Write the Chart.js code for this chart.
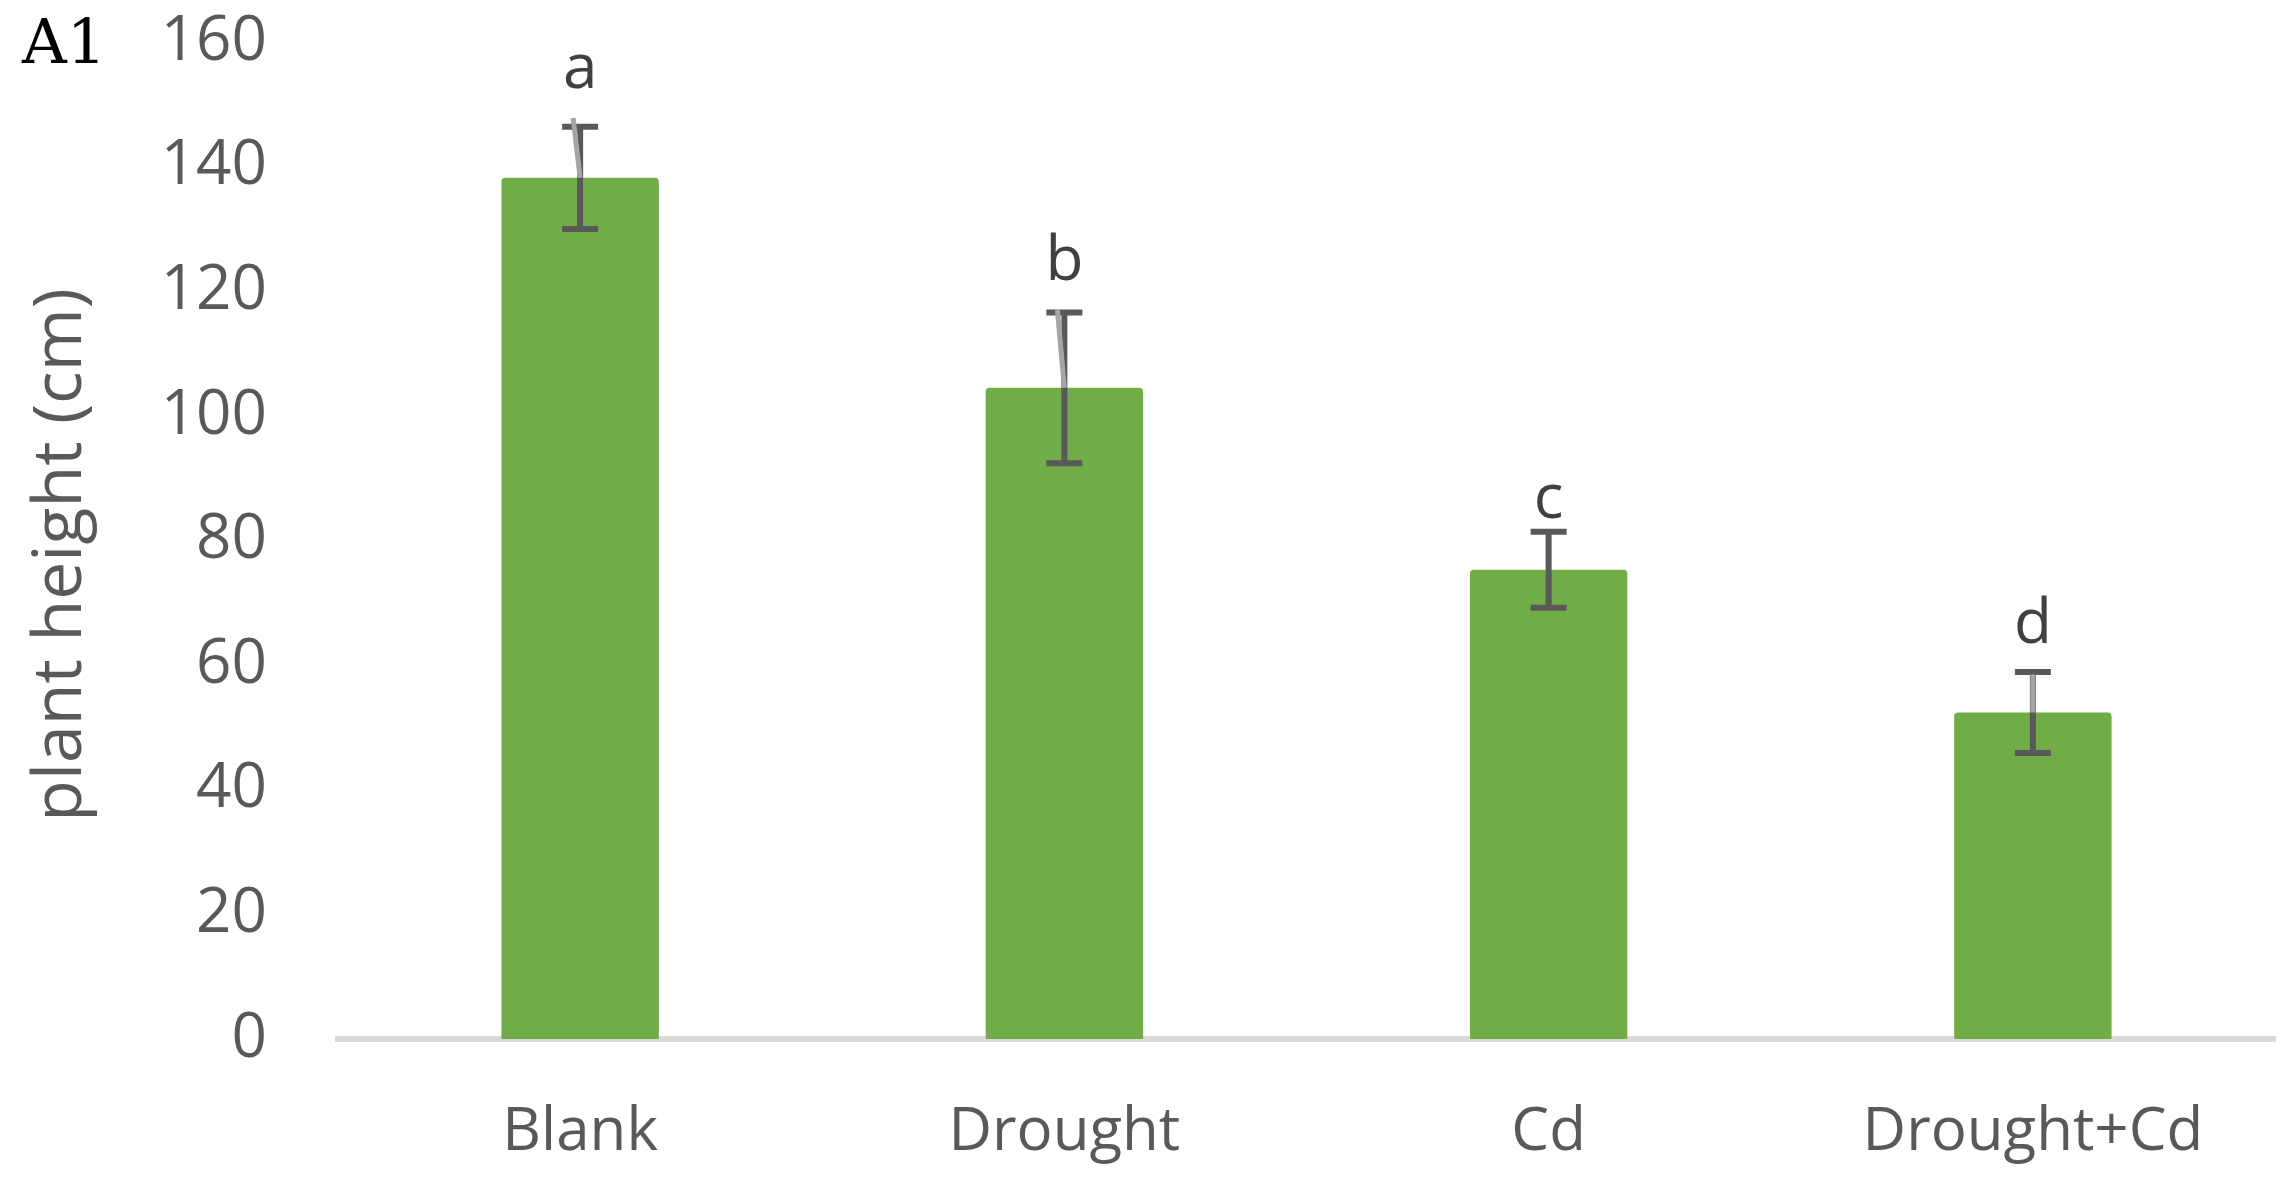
<!DOCTYPE html>
<html lang="en">
<head>
    <meta charset="UTF-8">
    <meta name="viewport" content="width=device-width, initial-scale=1.0">
    <title>Plant height</title>
    <script src="https://cdn.jsdelivr.net/npm/chart.js@4.4.0/dist/chart.umd.min.js"></script>
    <style>
        html, body { margin: 0; padding: 0; background: #fff; }
        #wrap { width: 2295px; height: 1179px; }
    </style>
</head>
<body>
<div id="wrap">
    <canvas id="myChart" width="2295" height="1179"></canvas>
</div>

<script>
    const treatments = ['Blank', 'Drought', 'Cd', 'Drought+Cd'];
    const heights = [138.2, 104.5, 75.3, 52.4];
    const errors = [8.2, 12.1, 6.1, 6.5];
    const letters = ['a', 'b', 'c', 'd'];
    const letterAt = [152.6, 121.8, 83.6, 63.6];
    const greyTop = [147.8, 117.0, null, 58.5];
    const yTicks = [0, 20, 40, 60, 80, 100, 120, 140, 160];

    const greySlant = [-7, -7, 0, 0];
    const fontName = '"Open Sans", "Noto Sans", sans-serif';

    // error bars, the light grey strokes and the letters above the bars
    const errorBars = {
        id: 'errorBars',
        afterDatasetsDraw(chart) {
            const ctx = chart.ctx;
            const y = chart.scales.y;
            const bars = chart.getDatasetMeta(0).data;
            ctx.save();
            ctx.strokeStyle = '#595959';
            ctx.lineWidth = 6;
            bars.forEach((bar, i) => {
                const x = bar.x;
                const top = y.getPixelForValue(heights[i] + errors[i]);
                const bot = y.getPixelForValue(heights[i] - errors[i]);
                ctx.beginPath();
                ctx.moveTo(x, top);
                ctx.lineTo(x, bot);
                ctx.moveTo(x - 18, top);
                ctx.lineTo(x + 18, top);
                ctx.moveTo(x - 18, bot);
                ctx.lineTo(x + 18, bot);
                ctx.stroke();
            });

            ctx.strokeStyle = '#a5a5a5';
            ctx.lineWidth = 5;
            bars.forEach((bar, i) => {
                if (greyTop[i] === null) return;
                ctx.beginPath();
                ctx.moveTo(bar.x + greySlant[i], y.getPixelForValue(greyTop[i]));
                ctx.lineTo(bar.x, y.getPixelForValue(heights[i]));
                ctx.stroke();
            });

            ctx.fillStyle = '#404040';
            ctx.font = '62px ' + fontName;
            ctx.textAlign = 'center';
            ctx.textBaseline = 'alphabetic';
            bars.forEach((bar, i) => {
                ctx.fillText(letters[i], bar.x, y.getPixelForValue(letterAt[i]));
            });
            ctx.restore();
        }
    };

    // panel tag and y axis title
    const extras = {
        id: 'extras',
        afterDraw(chart) {
            const ctx = chart.ctx;
            ctx.save();
            ctx.fillStyle = '#000';
            ctx.font = '62px "DejaVu Serif", "Liberation Serif", serif';
            ctx.textAlign = 'left';
            ctx.textBaseline = 'alphabetic';
            ctx.fillText('A1', 22, 63);

            ctx.fillStyle = '#595959';
            ctx.font = '68px ' + fontName;
            ctx.translate(62, 555);
            ctx.rotate(-Math.PI / 2);
            ctx.textAlign = 'center';
            ctx.textBaseline = 'middle';
            ctx.fillText('plant height (cm)', 0, 0);
            ctx.restore();
        }
    };

    let myChart = document.getElementById('myChart').getContext('2d');

    let MainChart = new Chart(myChart, {
        type: 'bar',
        data: {
            labels: treatments,
            datasets: [{
                data: heights,
                backgroundColor: '#70ad47',
                borderRadius: {topLeft: 4, topRight: 4},
                borderSkipped: 'bottom',
                barPercentage: 0.325,
                categoryPercentage: 1
            }]
        },
        options: {
            responsive: false,
            devicePixelRatio: 1,
            animation: false,
            layout: {padding: {top: 42, right: 20, left: 0, bottom: 0}},
            plugins: {
                legend: {display: false},
                tooltip: {enabled: false}
            },
            scales: {
                x: {
                    grid: {display: false, drawTicks: false},
                    border: {display: true, color: '#d9d9d9', width: 6},
                    ticks: {
                        color: '#595959',
                        font: {family: fontName, size: 60, lineHeight: 1.2},
                        padding: 58
                    },
                    afterFit: s => {
                        s.height = 140;
                        s.paddingLeft = 0;
                        s.paddingRight = 0;
                    }
                },
                y: {
                    min: 0,
                    max: 160,
                    grid: {display: false, drawTicks: false},
                    border: {display: false},
                    ticks: {
                        color: '#595959',
                        font: {family: fontName, size: 62},
                        padding: 71
                    },
                    afterBuildTicks: s => { s.ticks = yTicks.map(v => ({value: v})); },
                    afterFit: s => {
                        s.width = 338;
                        s.paddingTop = 0;
                        s.paddingBottom = 0;
                    }
                }
            }
        },
        plugins: [errorBars, extras]
    });
</script>
</body>
</html>
